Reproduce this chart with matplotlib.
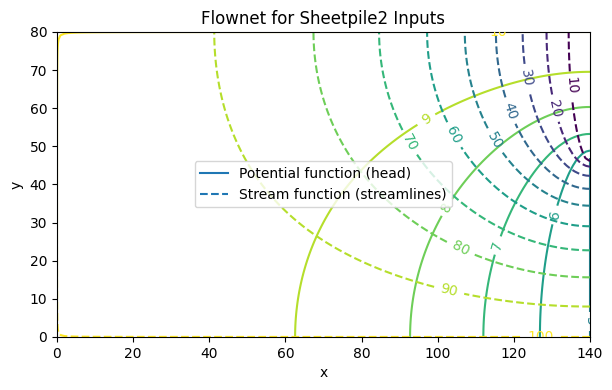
import numpy as np
import matplotlib
matplotlib.use('Agg')
import matplotlib.pyplot as plt
from matplotlib.lines import Line2D

# Sheetpile2 inputs
x_len = 140.0      # width of the modelled half-section
y_len = 80.0       # thickness of the soil layer
tip_y = 47.0       # elevation of the sheetpile tip (pile sits on the right edge)
k_ratio = 1.21     # ky / kx
head_up = 10.0     # head on the upstream ground surface
head_mid = 5.0     # head on the symmetry line below the tip
psi_base = 100.0   # stream function on the impermeable base
psi_pile = 0.0     # stream function on the sheetpile

head_levels = [1, 2, 3, 4, 5, 6, 7, 8, 9, 10]
stream_levels = [10, 20, 30, 40, 50, 60, 70, 80, 90, 100]

# grid
h = 1.0
x = np.arange(0, x_len + h / 2, h)
y = np.arange(0, y_len + h / 2, h)
X, Y = np.meshgrid(x, y)
J, I = np.indices(X.shape)
red = (I + J) % 2 == 0

# fixed edges sit a hair above the top level (as in the original solver output)
phi_bump = 0.0002
psi_bump = 0.002


def relax(u, fixed, n_iter=2000, w=1.94):
    # red-black SOR for kx*u_xx + ky*u_yy = 0, free edges are no-flow (mirror)
    wx = 1.0 / k_ratio
    for k in range(n_iter):
        for colour in (red, ~red):
            p = np.pad(u, 1, mode='reflect')
            avg = (wx * (p[1:-1, :-2] + p[1:-1, 2:]) + p[:-2, 1:-1] + p[2:, 1:-1]) / (2 * wx + 2)
            upd = colour & ~fixed
            u = np.where(upd, u + w * (avg - u), u)
    return u


top = Y == y_len
left = X == 0
bottom = Y == 0
below_tip = (X == x_len) & (Y <= tip_y)
pile = (X == x_len) & (Y >= tip_y)

# potential (head)
phi = np.full(X.shape, head_up)
phi[top | left] = head_up + phi_bump
phi[below_tip] = head_mid
phi = relax(phi, top | left | below_tip)

# stream function
psi = np.full(X.shape, psi_base)
psi[bottom | left] = psi_base + psi_bump
psi[pile] = psi_pile
psi = relax(psi, bottom | left | pile)

fig, ax = plt.subplots(figsize=(6.12, 3.9), dpi=100)
cs1 = ax.contour(X, Y, phi, levels=head_levels, cmap='viridis', linestyles='solid')
ax.clabel(cs1, inline=True, fontsize=10)
cs2 = ax.contour(X, Y, psi, levels=stream_levels, cmap='viridis', linestyles='dashed')
ax.clabel(cs2, inline=True, fontsize=10)

handles = [Line2D([0], [0], color='C0', linestyle='-', label='Potential function (head)'),
           Line2D([0], [0], color='C0', linestyle='--', label='Stream function (streamlines)')]
ax.legend(handles=handles, loc='center')

ax.set_title('Flownet for Sheetpile2 Inputs')
ax.set_xlabel('x')
ax.set_ylabel('y')
plt.subplots_adjust(left=0.093, right=0.964, top=0.918, bottom=0.136)
plt.savefig('out.png')
